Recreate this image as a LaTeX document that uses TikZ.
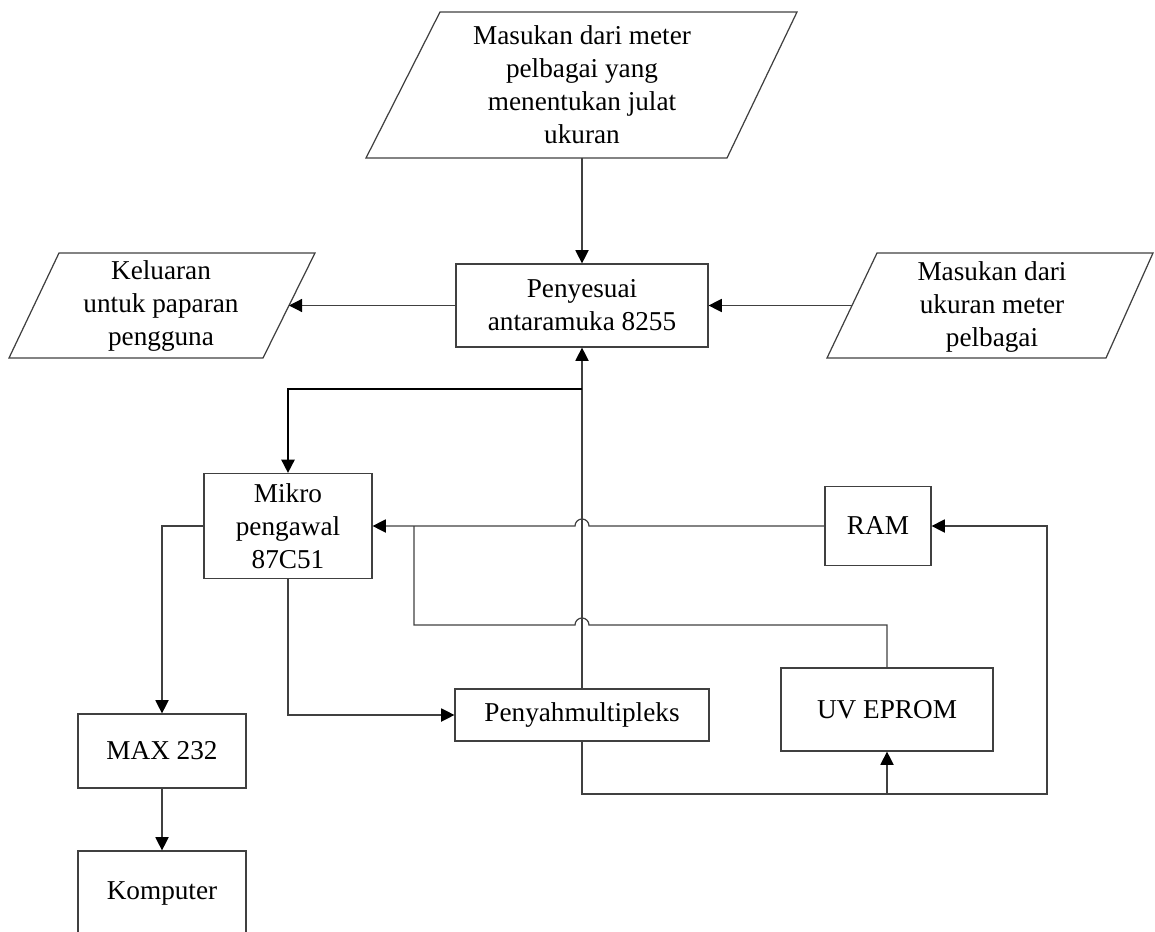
\documentclass[tikz,border=0pt]{standalone}
\usepackage{fontspec}
\setmainfont{Liberation Serif}
\usetikzlibrary{arrows.meta}
\def\lebar{1155}
\def\tinggi{932}

\tikzset{
  teks/.style={align=center, font=\fontsize{15.5}{18.8}\selectfont},
  kotak/.style={teks, draw=black!75, line width=0.7pt, inner sep=2pt},
  garis/.style={draw=black!75, line width=0.7pt},
  panah/.style={garis, -{Triangle[length=7.5pt, width=7.5pt, color=black]}},
}

\begin{document}
\begin{tikzpicture}[x=0.02cm, y=-0.02cm]
\useasboundingbox (0,0) rectangle (\lebar,\tinggi);

\draw[garis] (440,12) -- (797,12) -- (727,158) -- (366,158) -- cycle;
\node[teks] (masuk) at (582,85) {Masukan dari meter\\pelbagai yang\\menentukan julat\\ukuran};
\draw[garis] (59,253) -- (315,253) -- (263,358) -- (9,358) -- cycle;
\node[teks] (kel) at (161,306) {Keluaran\\untuk paparan\\pengguna};
\draw[garis] (877,253) -- (1153,253) -- (1106,358) -- (827,358) -- cycle;
\node[teks] (ukur) at (992,307) {Masukan dari\\ukuran meter\\pelbagai};

\node[kotak, minimum width=5.04cm, minimum height=1.66cm] (pen) at (582,305.5) {Penyesuai\\antaramuka 8255};
\node[kotak, minimum width=3.36cm, minimum height=2.1cm] (mikro) at (288,526) {Mikro\\pengawal\\87C51};
\node[kotak, minimum width=2.12cm, minimum height=1.58cm] (ram) at (878,526) {RAM};
\node[kotak, minimum width=4.24cm, minimum height=1.66cm] (uv) at (887,709.5) {UV EPROM};
\node[kotak, minimum width=5.08cm, minimum height=1.04cm] (demux) at (582,715) {Penyahmultipleks};
\node[kotak, minimum width=3.36cm, minimum height=1.48cm] (max) at (162,751) {MAX 232};
\node[kotak, minimum width=3.36cm, minimum height=1.68cm] (komp) at (162,893) {Komputer};

\coordinate (masuk-b) at (582,158);
\coordinate (kel-e) at (289,305.5);
\coordinate (ukur-w) at (852,305.5);
\coordinate (cabang) at (582,389);
\coordinate (bus) at (887,794);

\draw[panah] (masuk-b) -- (pen.north);
\draw[panah] (pen.west) -- (kel-e);
\draw[panah] (ukur-w) -- (pen.east);
\draw[panah] (demux.north) -- (pen.south);
\draw[panah, draw=black, line width=1pt] (cabang) -| (mikro.north);
\draw[panah] (mikro.west) -| (max.north);
\draw[panah] (max) -- (komp);
\draw[panah] (mikro.south) |- (demux.west);
\draw[panah] (ram.west) -- (589,526) arc[start angle=0, end angle=-180, radius=7] -- (mikro.east);
\draw[garis] (uv.north) |- (589,625) arc[start angle=0, end angle=-180, radius=7] -- (414,625) -- (414,526);
\draw[panah] (demux.south) |- (1047,794) |- (ram.east);
\draw[panah] (bus) -- (uv.south);
\end{tikzpicture}
\end{document}
